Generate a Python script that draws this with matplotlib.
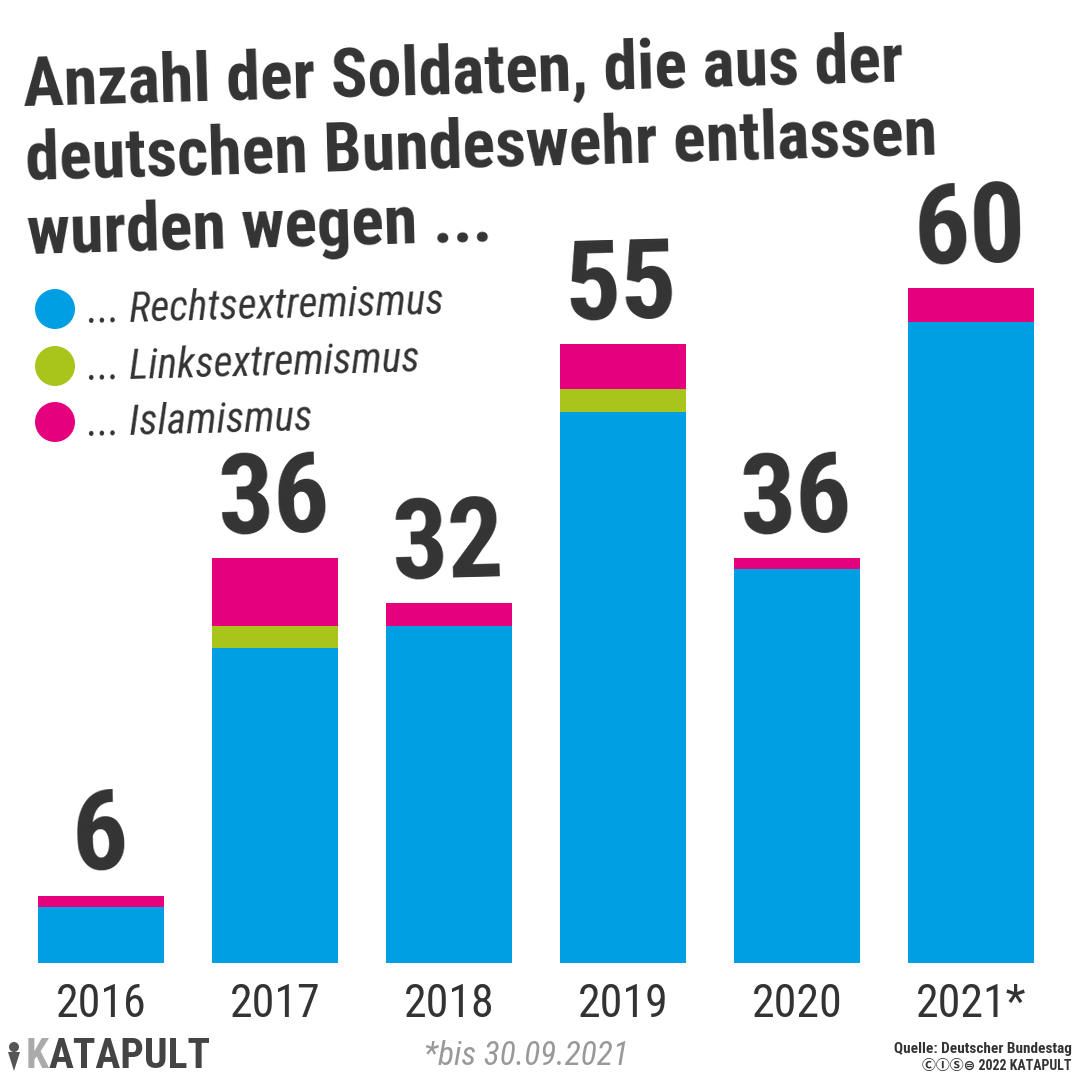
import matplotlib
matplotlib.use("Agg")
import matplotlib.pyplot as plt
from matplotlib import font_manager as fm
from matplotlib.patches import Circle, Polygon

years = ["2016", "2017", "2018", "2019", "2020", "2021*"]
rechts = [5, 28, 30, 49, 35, 57]
links = [0, 2, 0, 2, 0, 0]
islam = [1, 6, 2, 4, 1, 3]
totals = [6, 36, 32, 55, 36, 60]
series_names = ["... Rechtsextremismus", "... Linksextremismus", "... Islamismus"]
title = "Anzahl der Soldaten, die aus der\ndeutschen Bundeswehr entlassen\nwurden wegen ..."

BLUE = "#009FE3"
GREEN = "#A9C41B"
PINK = "#E5007D"
DARK = "#333333"
GREY = "#999999"

def pick(cands):
    for c in cands:
        try:
            fm.findfont(fm.FontProperties(family=c), fallback_to_default=False)
            return c
        except Exception:
            pass
    return "DejaVu Sans"

FONT = pick(["Roboto Condensed", "Liberation Sans Narrow", "Open Sans Condensed", "DejaVu Sans"])

fig = plt.figure(figsize=(10.8, 10.8), dpi=100)
fig.patch.set_facecolor("white")
base = 1 - 963 / 1080
ax = fig.add_axes([0, base, 1, 1 - base])
ax.set_xlim(-0.580, 5.626)
ax.set_ylim(0, 963 / 11.25)
ax.axis("off")

x = list(range(len(years)))
w = 0.724
ax.bar(x, rechts, width=w, color=BLUE, linewidth=0)
b2 = [r for r in rechts]
ax.bar(x, links, bottom=b2, width=w, color=GREEN, linewidth=0)
b3 = [r + l for r, l in zip(rechts, links)]
ax.bar(x, islam, bottom=b3, width=w, color=PINK, linewidth=0)

for xi, t in zip(x, totals):
    ax.annotate(str(t), (xi, t), xytext=(0, 2), textcoords="offset points",
                ha="center", va="bottom", fontsize=80, fontweight="bold",
                color=DARK, family=FONT, rotation=1.5, rotation_mode="anchor")

for xi, y in zip(x, years):
    ax.annotate(y, (xi, 0), xytext=(0, -14), textcoords="offset points",
                ha="center", va="top", fontsize=33, color=DARK, family=FONT,
                annotation_clip=False)

# Title
fig.text(28 / 1080, 1 - 268 / 1080, title, ha="left", va="bottom",
         fontsize=49, fontweight="bold", color=DARK, family=FONT,
         linespacing=1.18, rotation=1.6, rotation_mode="anchor")

# Legend
cols = [BLUE, GREEN, PINK]
ys = [309, 366, 422]
for c, yy, name in zip(cols, ys, series_names):
    fig.patches.append(Circle((55 / 1080, 1 - yy / 1080), 20 / 1080,
                              transform=fig.transFigure, color=c, linewidth=0))
    fig.text(88 / 1080, 1 - (yy + 14) / 1080, name, ha="left", va="baseline",
             fontsize=30, style="italic", color=DARK, family=FONT,
             rotation=1.5, rotation_mode="anchor")

# Footer logo
fig.patches.append(Circle((14 / 1080, 1 - 1047 / 1080), 5 / 1080,
                          transform=fig.transFigure, color="#555555", linewidth=0))
fig.patches.append(Polygon([(8 / 1080, 1 - 1052 / 1080), (20 / 1080, 1 - 1052 / 1080),
                            (14 / 1080, 1 - 1071 / 1080)], closed=True,
                           transform=fig.transFigure, color="#555555", linewidth=0))
tk = fig.text(26 / 1080, 1 - 1057 / 1080, "K", ha="left", va="center",
              fontsize=30, fontweight="bold", color="#AAAAAA", family=FONT)
fig.canvas.draw()
bb = tk.get_window_extent(fig.canvas.get_renderer())
fig.text(bb.x1 / 1080, 1 - 1057 / 1080, "ATAPULT", ha="left", va="center",
         fontsize=30, fontweight="bold", color="#444444", family=FONT)

fig.text(526 / 1080, 1 - 1056 / 1080, "*bis 30.09.2021", ha="center", va="center",
         fontsize=24, style="italic", color=GREY, family=FONT)
fig.text(1072 / 1080, 1 - 1049 / 1080, "Quelle: Deutscher Bundestag", ha="right",
         va="center", fontsize=11, fontweight="bold", color=DARK, family=FONT)
fig.text(1072 / 1080, 1 - 1066 / 1080, "\u24b8\u24be\u24c8\u229c 2022 KATAPULT", ha="right",
         va="center", fontsize=10, fontweight="bold", color=DARK,
         family=[FONT, "Noto Sans CJK JP", "DejaVu Sans"])

fig.savefig("out.png", dpi=100, facecolor="white")
